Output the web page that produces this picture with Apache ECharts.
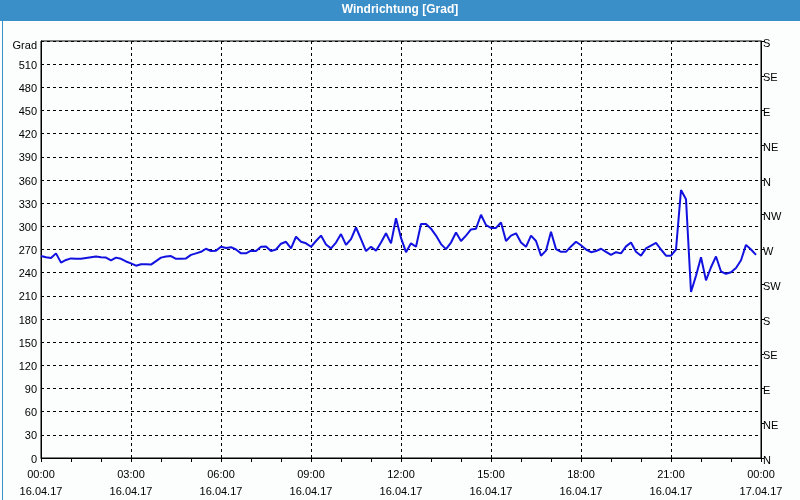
<!DOCTYPE html>
<html>
<head>
<meta charset="utf-8">
<script src="https://cdn.jsdelivr.net/npm/echarts@6/dist/echarts.min.js"></script>
<style>
  html, body { margin: 0; padding: 0; background: #fcfdfd; }
  #chart { width: 800px; height: 500px; }
</style>
</head>
<body>
<div id="chart"></div>
<script>
// Wind direction readings every 10 minutes starting 16.04.17 00:00
var stepMinutes = 10;
var directionValues = [
  261.5, 260, 259, 265, 253, 256.5, 258.5, 258, 258, 259, 260, 261,
  260, 259.5, 256, 259.5, 258, 254.5, 252, 249, 251, 251, 250.5, 255,
  259.5, 261, 261.5, 258, 258, 258.5, 263, 265, 267, 271, 268, 268.5,
  273.5, 272, 273, 270, 265, 265, 268.5, 268, 273.5, 274, 268, 270,
  277.5, 280, 271.5, 286.5, 280, 278, 273.5, 281, 288, 276.5, 271.5, 279,
  290, 276, 283.5, 298.5, 283.5, 268, 273.5, 268.5, 279, 291, 278, 310.5,
  285, 266.5, 278, 273.5, 303, 303, 297, 288, 277, 270.5, 279, 292,
  281, 288, 296, 297, 315, 301.5, 298, 298, 305, 281, 288, 291,
  279, 273.5, 288, 281, 262, 268.5, 293, 270.5, 267, 267, 274, 280,
  275.5, 270, 266.5, 268, 271, 267, 263, 266.5, 265, 274, 279, 267,
  262, 271.5, 275, 278.5, 270, 262, 262, 270, 347, 335, 215, 236,
  260, 230, 247, 261, 241.5, 238.5, 240.5, 246, 256, 276, 270, 263
];
var timeLabels = ['00:00', '03:00', '06:00', '09:00', '12:00', '15:00', '18:00', '21:00', '00:00'];
var dateLabels = ['16.04.17', '16.04.17', '16.04.17', '16.04.17', '16.04.17', '16.04.17', '16.04.17', '16.04.17', '17.04.17'];
var compassLabels = ['N', 'NE', 'E', 'SE', 'S', 'SW', 'W', 'NW', 'N', 'NE', 'E', 'SE', 'S'];
var titleText = 'Windrichtung [Grad]';
var unitText = 'Grad';

var seriesData = directionValues.map(function (v, i) {
  return [i * stepMinutes / 60, v];
});

var chart = echarts.init(document.getElementById('chart'), null, { renderer: 'canvas' });
var fontFamily = '"Liberation Sans", Arial, sans-serif';

chart.setOption({
  animation: false,
  backgroundColor: '#fcfdfd',
  graphic: [
    { type: 'rect', left: 0, top: 0, shape: { width: 800, height: 21 }, style: { fill: '#3b8fc8' }, z: 0 },
    { type: 'rect', left: 0, top: 0, shape: { width: 799, height: 499 }, style: { fill: 'none', stroke: '#3b8fc8', lineWidth: 1 }, z: 0 },
    { type: 'text', left: 'center', top: 4, style: { text: titleText, fill: '#ffffff', font: 'bold 12px ' + fontFamily }, z: 10 },
    { type: 'text', right: 763, top: 40, style: { text: unitText, fill: '#000', font: '11px ' + fontFamily, textAlign: 'right' }, z: 10 }
  ],
  grid: {
    left: 41, right: 39, top: 41, bottom: 39,
    show: true, borderColor: '#000', borderWidth: 1, backgroundColor: 'transparent'
  },
  xAxis: {
    type: 'value', min: 0, max: 24, interval: 3,
    axisLine: { show: true, lineStyle: { color: '#000', width: 1 } },
    axisTick: { show: true, length: 4, lineStyle: { color: '#000' } },
    minorTick: { show: true, splitNumber: 3, length: 4, lineStyle: { color: '#000' } },
    splitLine: { show: true, lineStyle: { color: '#000', type: [3, 3], width: 1 } },
    axisLabel: {
      color: '#000', fontFamily: fontFamily, fontSize: 11, lineHeight: 17, margin: 8,
      formatter: function (v) {
        var i = Math.round(v / 3);
        return timeLabels[i] + '\n' + dateLabels[i];
      }
    }
  },
  yAxis: [
    {
      type: 'value', min: 0, max: 540, interval: 30, position: 'left',
      axisLine: { show: true, lineStyle: { color: '#000' } },
      axisTick: { show: false },
      splitLine: { show: true, lineStyle: { color: '#000', type: [3, 3], width: 1 } },
      axisLabel: {
        color: '#000', fontFamily: fontFamily, fontSize: 11, margin: 4,
        formatter: function (v) { return v === 540 ? '' : '{a|' + v + '}'; },
        rich: { a: { fontFamily: fontFamily, fontSize: 11, color: '#000', padding: [3, 0, 0, 0] } }
      }
    },
    {
      type: 'value', min: 0, max: 540, interval: 45, position: 'right',
      axisLine: { show: true, lineStyle: { color: '#000' } },
      axisTick: { show: true, inside: false, length: 3, lineStyle: { color: '#000' } },
      splitLine: { show: false },
      axisLabel: {
        color: '#000', fontFamily: fontFamily, fontSize: 11, margin: 2,
        formatter: function (v) { return '{a|' + compassLabels[Math.round(v / 45)] + '}'; },
        rich: { a: { fontFamily: fontFamily, fontSize: 11, color: '#000', padding: [5, 0, 0, 0] } }
      }
    }
  ],
  series: [{
    type: 'line',
    data: seriesData,
    yAxisIndex: 0,
    showSymbol: false,
    symbol: 'none',
    lineStyle: { color: '#1212e0', width: 2 },
    z: 5
  }]
});
</script>
</body>
</html>
